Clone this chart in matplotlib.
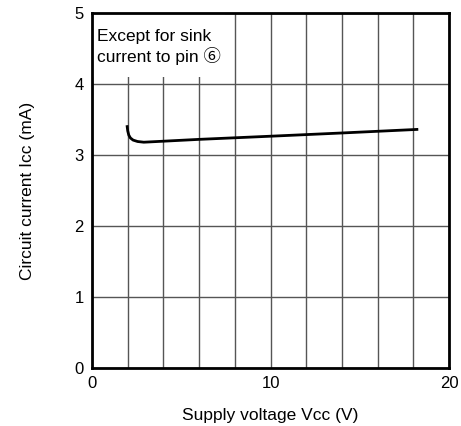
import matplotlib.pyplot as plt
from matplotlib.patches import Rectangle

# Icc vs Vcc characteristic
vcc = [1.97, 2.0, 2.06, 2.15, 2.3, 2.55, 2.9, 6.0, 10.5, 14.0, 18.2]
icc = [3.40, 3.34, 3.28, 3.24, 3.21, 3.19, 3.18, 3.22, 3.27, 3.31, 3.36]

x_ticks = [0, 10, 20]
y_ticks = [0, 1, 2, 3, 4, 5]
note = "Except for sink\ncurrent to pin \u2465"

plt.rcParams['font.family'] = ['Liberation Sans', 'Noto Sans CJK JP', 'DejaVu Sans']

fig = plt.figure(figsize=(4.61, 4.26), dpi=100)
ax = fig.add_axes([0.1996, 0.1362, 0.7744, 0.8333])

ax.set_xlim(0, 20)
ax.set_ylim(0, 5)
ax.set_xticks(range(0, 21, 2), minor=True)
ax.set_xticks(x_ticks)
ax.set_yticks(y_ticks)
ax.grid(True, which='both', axis='x', color='#555555', linewidth=1.0, zorder=1)
ax.grid(True, which='major', axis='y', color='#555555', linewidth=1.0, zorder=1)
ax.tick_params(which='both', length=0, labelsize=12, pad=6)
ax.set_axisbelow(True)

for s in ax.spines.values():
    s.set_linewidth(2.0)

# blank area behind the note
ax.add_patch(Rectangle((0, 0.82), 0.373, 0.18, transform=ax.transAxes,
                       facecolor='white', edgecolor='none', zorder=2))
ax.text(0.013, 0.955, note, transform=ax.transAxes, va='top', ha='left',
        fontsize=12.5, linespacing=1.2, zorder=3)

ax.plot(vcc, icc, color='black', linewidth=2.0, zorder=4)

ax.set_xlabel('Supply voltage Vcc (V)', fontsize=12.5, labelpad=12)
ax.set_ylabel('Circuit current Icc (mA)', fontsize=12.5, labelpad=28)

fig.savefig('out.png', dpi=100)
